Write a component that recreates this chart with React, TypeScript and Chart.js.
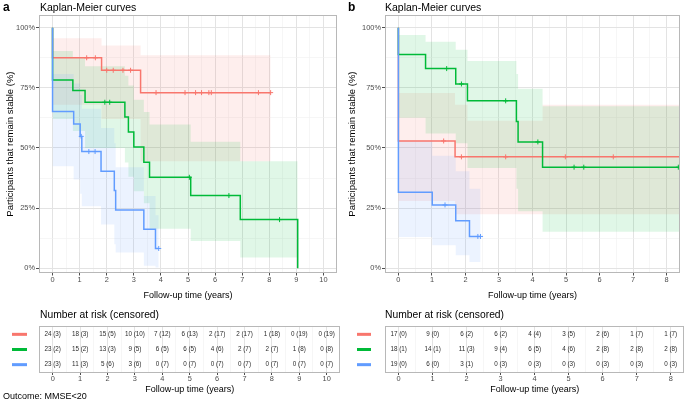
import React, { useEffect, useRef } from "react";
import { Chart, registerables } from "chart.js";

Chart.register(...registerables);

const FONT = "'Liberation Sans', Arial, Helvetica, sans-serif";
const RED = "#F8766D";
const GREEN = "#00BA38";
const BLUE = "#619CFF";

// ---------------- Panel a: Kaplan-Meier ----------------
const aRedTimes = [0, 0, 1.81, 3.25, 8.05];
const aRedSurv = [100, 87.5, 82.3, 73.0, 73.0];
const aRedCensor = [1.26, 1.58, 2.0, 2.24, 2.6, 2.88, 3.82, 4.89, 5.28, 5.5, 5.77, 5.86, 7.6, 8.05];
const aRedBandTimes = [0, 1.81, 3.25, 8.05];
const aRedUpper = [95.6, 92.6, 88.5, 88.5];
const aRedLower = [68, 62, 44.5, 44.5];

const aGreenTimes = [0, 0, 0.75, 1.2, 2.67, 2.8, 3.0, 3.37, 3.58, 5.1, 6.93, 9.05];
const aGreenSurv = [100, 78.3, 73.9, 69.0, 62.9, 56.6, 50.4, 44.1, 37.8, 30.2, 20.2, 0];
const aGreenCensor = [1.93, 2.11, 5.05, 6.51, 8.38];
const aGreenBandTimes = [0, 0.75, 1.2, 2.67, 2.8, 3.0, 3.37, 3.58, 5.1, 6.93, 9.05];
const aGreenUpper = [90.3, 87.5, 84, 80, 76, 70, 65, 59.7, 52.6, 44.5, 44.5];
const aGreenLower = [62, 57, 50, 44, 38, 32, 27, 16.4, 11.3, 4.4, 4.4];

const aBlueTimes = [0, 0, 0.78, 1.02, 1.08, 1.79, 2.28, 2.33, 3.37, 3.8, 3.92];
const aBlueSurv = [100, 65.2, 60.0, 54.8, 48.5, 40.3, 32.3, 24.2, 16.2, 8.2, 8.2];
const aBlueCensor = [1.06, 1.34, 1.57, 3.92];
const aBlueBandTimes = [0, 0.78, 1.02, 1.08, 1.79, 2.28, 2.33, 3.37, 3.8, 3.92];
const aBlueUpper = [80.7, 76.8, 72, 66.3, 58.3, 52, 42, 30, 22, 22];
const aBlueLower = [42.4, 36.9, 31, 25.8, 18.2, 10, 6.5, 1.0, 0.3, 0.3];

// ---------------- Panel b: Kaplan-Meier ----------------
const bRedTimes = [0, 0, 1.69, 8.6];
const bRedSurv = [100, 52.9, 46.3, 46.3];
const bRedCensor = [1.35, 1.88, 3.2, 4.98, 6.41];
const bRedBandTimes = [0, 1.69, 2.06, 4.3, 8.6];
const bRedUpper = [72.8, 68, 61.3, 68, 68];
const bRedLower = [27.9, 22.4, 22.4, 22.4, 22.4];

const bGreenTimes = [0, 0, 0.81, 1.71, 2.06, 3.52, 3.57, 4.3, 8.6];
const bGreenSurv = [100, 88.9, 83.0, 76.6, 69.6, 61.0, 52.5, 42.0, 42.0];
const bGreenCensor = [1.44, 1.88, 3.2, 4.16, 5.24, 5.53, 8.35];
const bGreenBandTimes = [0, 0.81, 1.71, 2.06, 3.52, 3.57, 4.3, 8.6];
const bGreenUpper = [97, 94.2, 90.8, 86.2, 80.7, 74.6, 67.3, 67.3];
const bGreenLower = [62.6, 56, 52, 41.7, 33, 23.7, 15.2, 15.2];

const bBlueTimes = [0, 0, 1.01, 1.71, 2.12, 2.45];
const bBlueSurv = [100, 31.6, 26.3, 19.7, 13.2, 13.2];
const bBlueCensor = [1.39, 2.37, 2.45];
const bBlueBandTimes = [0, 1.01, 1.71, 2.12, 2.45];
const bBlueUpper = [53, 46.8, 40.3, 33, 33];
const bBlueLower = [13, 9.5, 5.4, 2.6, 2.6];

// ---------------- Number at risk (censored) ----------------
const aRiskRed = [24, 18, 15, 10, 7, 6, 2, 2, 1, 0, 0];
const aCensRed = [3, 3, 5, 10, 12, 13, 17, 17, 18, 19, 19];
const aRiskGreen = [23, 15, 13, 9, 6, 6, 4, 2, 2, 1, 0];
const aCensGreen = [2, 2, 3, 5, 5, 5, 6, 7, 7, 8, 8];
const aRiskBlue = [23, 11, 5, 3, 0, 0, 0, 0, 0, 0, 0];
const aCensBlue = [3, 3, 6, 6, 7, 7, 7, 7, 7, 7, 7];

const bRiskRed = [17, 9, 6, 6, 4, 3, 2, 1, 1];
const bCensRed = [0, 0, 2, 2, 4, 5, 6, 7, 7];
const bRiskGreen = [18, 14, 11, 9, 6, 4, 2, 2, 2];
const bCensGreen = [1, 1, 3, 4, 5, 6, 8, 8, 8];
const bRiskBlue = [19, 6, 3, 0, 0, 0, 0, 0, 0];
const bCensBlue = [0, 0, 1, 3, 3, 3, 3, 3, 3];

// ---------------- Tick labels ----------------
const aTimeTicks = [0, 1, 2, 3, 4, 5, 6, 7, 8, 9, 10];
const aTimeMinor = [0.5, 1.5, 2.5, 3.5, 4.5, 5.5, 6.5, 7.5, 8.5, 9.5];
const bTimeTicks = [0, 1, 2, 3, 4, 5, 6, 7, 8];
const bTimeMinor = [0.5, 1.5, 2.5, 3.5, 4.5, 5.5, 6.5, 7.5];
const yTicks = [0, 25, 50, 75, 100];
const yMinor = [12.5, 37.5, 62.5, 87.5];

type Series = {
  times: number[];
  surv: number[];
  censor: number[];
  bandTimes: number[];
  upper: number[];
  lower: number[];
  color: string;
};

const seriesA: Series[] = [
  { times: aRedTimes, surv: aRedSurv, censor: aRedCensor, bandTimes: aRedBandTimes, upper: aRedUpper, lower: aRedLower, color: RED },
  { times: aGreenTimes, surv: aGreenSurv, censor: aGreenCensor, bandTimes: aGreenBandTimes, upper: aGreenUpper, lower: aGreenLower, color: GREEN },
  { times: aBlueTimes, surv: aBlueSurv, censor: aBlueCensor, bandTimes: aBlueBandTimes, upper: aBlueUpper, lower: aBlueLower, color: BLUE },
];
const seriesB: Series[] = [
  { times: bRedTimes, surv: bRedSurv, censor: bRedCensor, bandTimes: bRedBandTimes, upper: bRedUpper, lower: bRedLower, color: RED },
  { times: bGreenTimes, surv: bGreenSurv, censor: bGreenCensor, bandTimes: bGreenBandTimes, upper: bGreenUpper, lower: bGreenLower, color: GREEN },
  { times: bBlueTimes, surv: bBlueSurv, censor: bBlueCensor, bandTimes: bBlueBandTimes, upper: bBlueUpper, lower: bBlueLower, color: BLUE },
];

function rgba(hex: string, a: number) {
  const n = parseInt(hex.slice(1), 16);
  return `rgba(${(n >> 16) & 255},${(n >> 8) & 255},${n & 255},${a})`;
}

function pts(xs: number[], ys: number[]) {
  return xs.map((x, i) => ({ x, y: ys[i] }));
}

function stepAt(times: number[], surv: number[], t: number) {
  let v = surv[0];
  for (let i = 0; i < times.length; i++) if (times[i] <= t + 1e-9) v = surv[i];
  return v;
}

function kmDatasets(series: Series[]) {
  const ds: any[] = [];
  series.forEach((s, k) => {
    ds.push({
      data: pts(s.bandTimes, s.upper), stepped: true, borderColor: "rgba(0,0,0,0)", borderWidth: 0,
      pointRadius: 0, fill: "+1", backgroundColor: rgba(s.color, 0.12), order: 30 - k,
    });
    ds.push({
      data: pts(s.bandTimes, s.lower), stepped: true, borderColor: "rgba(0,0,0,0)", borderWidth: 0,
      pointRadius: 0, fill: false, order: 30 - k,
    });
  });
  series.forEach((s, k) => {
    ds.push({
      data: pts(s.times, s.surv), stepped: true, borderColor: s.color, borderWidth: 1.5,
      pointRadius: 0, fill: false, order: 10 - 2 * k,
    });
    ds.push({
      data: s.censor.map((t) => ({ x: t, y: stepAt(s.times, s.surv, t) })),
      showLine: false, pointStyle: "cross", pointRadius: 2.5, pointBorderWidth: 1,
      pointBorderColor: s.color, borderColor: s.color, backgroundColor: s.color, order: 9 - 2 * k,
    });
  });
  return ds;
}

function gridOpts(isMajor: (v: number) => boolean, tickLength: number) {
  return {
    color: (c: any) => (isMajor(c.tick?.value) ? "#E3E3E3" : "#F0F0F0"),
    lineWidth: (c: any) => (isMajor(c.tick?.value) ? 1 : 0.6),
    tickColor: (c: any) => (isMajor(c.tick?.value) ? "#4D4D4D" : "rgba(0,0,0,0)"),
    tickLength,
    drawTicks: true,
  };
}

function timeAxis(min: number, max: number, major: number[], minor: number[], height: number, padBottom: number, tickLength: number, tickPad: number) {
  const all = [...major, ...minor].sort((p, q) => p - q);
  const isMajor = (v: number) => major.includes(v);
  return {
    type: "linear",
    min,
    max,
    afterBuildTicks: (s: any) => {
      s.ticks = all.map((v) => ({ value: v }));
    },
    afterFit: (s: any) => {
      s.height = height;
    },
    ticks: {
      autoSkip: false, maxRotation: 0, minRotation: 0, padding: tickPad, color: "#4D4D4D",
      font: { family: FONT, size: 7.4 },
      callback: (v: number) => (isMajor(v) ? String(v) : ""),
    },
    grid: gridOpts(isMajor, tickLength),
    border: { display: false },
    title: {
      display: true, text: "Follow-up time (years)", color: "#000",
      font: { family: FONT, size: 9 }, padding: { top: 0, bottom: padBottom },
    },
  };
}

const borderPlugin = {
  id: "panelBorder",
  afterDraw(chart: any) {
    const { ctx, chartArea } = chart;
    const l = Math.round(chartArea.left) + 0.5;
    const t = Math.round(chartArea.top) + 0.5;
    const r = Math.round(chartArea.right) - 0.5;
    const b = Math.round(chartArea.bottom) - 0.5;
    ctx.save();
    ctx.strokeStyle = "#B8B8B8";
    ctx.lineWidth = 1;
    ctx.strokeRect(l, t, r - l, b - t);
    ctx.restore();
  },
};

function kmConfig(series: Series[], xMin: number, xMax: number, major: number[], minor: number[], leftW: number, rightPad: number, titlePad: number) {
  const yAll = [...yTicks, ...yMinor].sort((p, q) => p - q);
  const isMajorY = (v: number) => yTicks.includes(v);
  return {
    type: "line",
    data: { datasets: kmDatasets(series) },
    options: {
      animation: false,
      responsive: false,
      devicePixelRatio: 1,
      events: [],
      layout: { padding: { top: 15.2, right: rightPad, left: 0, bottom: 0 } },
      plugins: { legend: { display: false }, tooltip: { enabled: false }, title: { display: false } },
      scales: {
        x: timeAxis(xMin, xMax, major, minor, 32, 3.6, 2.5, 0),
        y: {
          type: "linear",
          min: -2,
          max: 105.2,
          afterBuildTicks: (s: any) => {
            s.ticks = yAll.map((v) => ({ value: v }));
          },
          afterFit: (s: any) => {
            s.width = leftW;
          },
          ticks: {
            autoSkip: false, padding: 1, color: "#4D4D4D", font: { family: FONT, size: 7.4 },
            callback: (v: number) => (isMajorY(v) ? v + "%" : ""),
          },
          grid: gridOpts(isMajorY, 3),
          border: { display: false },
          title: {
            display: true, text: "Participants that remain stable (%)", color: "#000",
            font: { family: FONT, size: 9.5 }, padding: { top: titlePad, bottom: 0 },
          },
        },
      },
    },
    plugins: [borderPlugin],
  };
}

type RiskRow = { risk: number[]; cens: number[]; color: string };

function riskPlugin(rows: RiskRow[], ticks: number[], swatch: [number, number]) {
  return {
    id: "riskTable",
    afterDatasetsDraw(chart: any) {
      const { ctx, scales } = chart;
      const x = scales.x;
      const y = scales.y;
      ctx.save();
      ctx.font = `6.3px ${FONT}`;
      ctx.textAlign = "center";
      ctx.textBaseline = "middle";
      rows.forEach((r, i) => {
        const py = y.getPixelForValue(i + 1);
        ctx.fillStyle = "#2B2B2B";
        ticks.forEach((t, j) => {
          ctx.fillText(`${r.risk[j]} (${r.cens[j]})`, x.getPixelForValue(t), py);
        });
        ctx.fillStyle = r.color;
        ctx.fillRect(swatch[0], py - 1.5, swatch[1] - swatch[0], 3);
      });
      ctx.restore();
    },
  };
}

function tableConfig(rows: RiskRow[], xMin: number, xMax: number, major: number[], minor: number[], leftW: number, rightPad: number, swatch: [number, number]) {
  return {
    type: "line",
    data: { datasets: [] },
    options: {
      animation: false,
      responsive: false,
      devicePixelRatio: 1,
      events: [],
      layout: { padding: { top: 21, right: rightPad, left: leftW, bottom: 0 } },
      plugins: { legend: { display: false }, tooltip: { enabled: false }, title: { display: false } },
      scales: {
        x: timeAxis(xMin, xMax, major, minor, 27, 5.2, 2, 0),
        y: { type: "linear", display: false, min: 0.45, max: 3.55, reverse: true },
      },
    },
    plugins: [borderPlugin, riskPlugin(rows, major, swatch)],
  };
}

const rowsA: RiskRow[] = [
  { risk: aRiskRed, cens: aCensRed, color: RED },
  { risk: aRiskGreen, cens: aCensGreen, color: GREEN },
  { risk: aRiskBlue, cens: aCensBlue, color: BLUE },
];
const rowsB: RiskRow[] = [
  { risk: bRiskRed, cens: bCensRed, color: RED },
  { risk: bRiskGreen, cens: bCensGreen, color: GREEN },
  { risk: bRiskBlue, cens: bCensBlue, color: BLUE },
];

const textStyle = (left: number, top: number, size: number, bold = false): React.CSSProperties => ({
  position: "absolute",
  left,
  top,
  fontFamily: FONT,
  fontSize: size,
  lineHeight: `${size}px`,
  fontWeight: bold ? 700 : 400,
  color: "#000",
  whiteSpace: "nowrap",
});

export default function App() {
  const kmA = useRef<HTMLCanvasElement>(null);
  const kmB = useRef<HTMLCanvasElement>(null);
  const tbA = useRef<HTMLCanvasElement>(null);
  const tbB = useRef<HTMLCanvasElement>(null);

  useEffect(() => {
    const charts: Chart[] = [];
    charts.push(new Chart(kmA.current as any, kmConfig(seriesA, -0.5, 10.5, aTimeTicks, aTimeMinor, 39, 1.6, 4.5) as any));
    charts.push(new Chart(kmB.current as any, kmConfig(seriesB, -0.4, 8.4, bTimeTicks, bTimeMinor, 43, 0.7, 4.3) as any));
    charts.push(new Chart(tbA.current as any, tableConfig(rowsA, -0.5, 10.5, aTimeTicks, aTimeMinor, 39, 1.6, [12, 27]) as any));
    charts.push(new Chart(tbB.current as any, tableConfig(rowsB, -0.4, 8.4, bTimeTicks, bTimeMinor, 43, 0.7, [15, 29]) as any));
    return () => charts.forEach((c) => c.destroy());
  }, []);

  return (
    <div style={{ position: "absolute", left: 0, top: 0, width: 685, height: 400, background: "#fff", overflow: "hidden" }}>
      <canvas ref={kmA} width={342} height={305} style={{ position: "absolute", left: 0, top: 0, width: 342, height: 305 }} />
      <canvas ref={kmB} width={343} height={305} style={{ position: "absolute", left: 342, top: 0, width: 343, height: 305 }} />
      <canvas ref={tbA} width={342} height={95} style={{ position: "absolute", left: 0, top: 305, width: 342, height: 95 }} />
      <canvas ref={tbB} width={343} height={95} style={{ position: "absolute", left: 342, top: 305, width: 343, height: 95 }} />
      <div style={textStyle(3, 1, 12, true)}>a</div>
      <div style={textStyle(40, 1.5, 10.5)}>Kaplan-Meier curves</div>
      <div style={textStyle(348, 1, 12, true)}>b</div>
      <div style={textStyle(385, 1.5, 10.5)}>Kaplan-Meier curves</div>
      <div style={textStyle(40, 310, 10.3)}>Number at risk (censored)</div>
      <div style={textStyle(385, 310, 10.3)}>Number at risk (censored)</div>
      <div style={textStyle(3, 391.5, 9)}>Outcome: MMSE&lt;20</div>
    </div>
  );
}
